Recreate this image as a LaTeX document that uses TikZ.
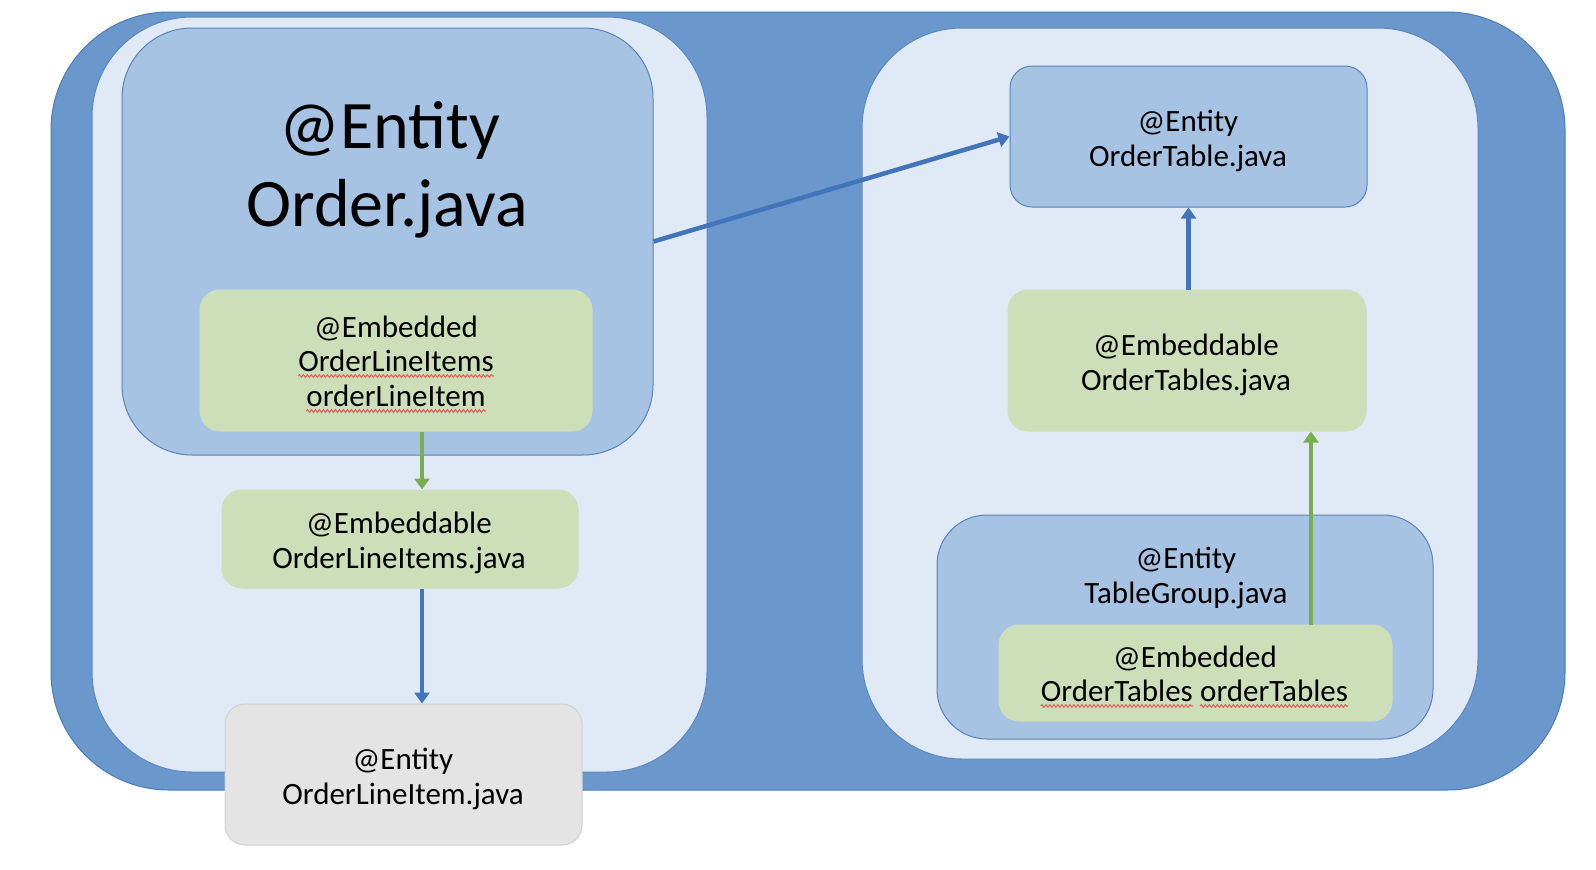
\documentclass[tikz,border=0pt]{standalone}
\usepackage{fontspec}
\setmainfont{Carlito}
\usetikzlibrary{arrows.meta,decorations.pathmorphing,calc}
\definecolor{outerblue}{HTML}{6A98CD}
\definecolor{outerline}{HTML}{4A7CBA}
\definecolor{panelfill}{HTML}{DFEAF6}
\definecolor{panelline}{HTML}{5C87BE}
\definecolor{midblue}{HTML}{A7C3E3}
\definecolor{midline}{HTML}{5A82B9}
\definecolor{embgreen}{HTML}{CCDFB8}
\definecolor{grayfill}{HTML}{E4E4E4}
\definecolor{grayline}{HTML}{D2D2D2}
\definecolor{arrowblue}{HTML}{4274BA}
\definecolor{arrowgreen}{HTML}{78AD50}
\definecolor{squigred}{HTML}{E8625F}
\tikzset{
  box/.style={draw, line width=1pt, inner sep=0pt, rectangle},
  outerbox/.style={box, fill=outerblue, draw=outerline, rounded corners=118pt},
  panelbox/.style={box, fill=panelfill, draw=panelline, rounded corners=100pt},
  entitybox/.style={box, fill=midblue, draw=midline},
  embbox/.style={box, fill=embgreen, draw=embgreen, rounded corners=20pt},
  graybox/.style={box, fill=grayfill, draw=grayline, rounded corners=20pt},
  txt/.style={inner sep=0pt, anchor=base, font=\fontsize{31}{35}\selectfont},
  bigtxt/.style={inner sep=0pt, anchor=base, font=\fontsize{68}{78}\selectfont},
  barrow/.style={draw=arrowblue, line width=4.5pt, -{Triangle[length=11pt,width=15pt]}},
  garrow/.style={draw=arrowgreen, line width=4.5pt, -{Triangle[length=11pt,width=15pt]}},
  squiggle/.style={draw=squigred, line width=1.1pt, decorate, decoration={snake, amplitude=1.3pt, segment length=4pt}}
}
\begin{document}
\begin{tikzpicture}[x=1pt, y=-1pt]
\useasboundingbox (0,0) rectangle (1596,870);
\fill[white] (0,0) rectangle (1596,870);
% containers
\node[outerbox, minimum width=1514pt, minimum height=778pt] (outer) at (808,401) {};
\node[panelbox, minimum width=615pt, minimum height=755pt] (leftpanel) at (399.5,394.5) {};
\node[panelbox, minimum width=616pt, minimum height=731pt] (rightpanel) at (1170,393.5) {};
% left side
\node[entitybox, rounded corners=70pt, minimum width=531pt, minimum height=427pt] (order) at (387.5,241.5) {};
\node[bigtxt] (ordera) at (390,148) {@Entity};
\node[bigtxt] (orderb) at (387,226) {Order.java};
\node[embbox, minimum width=392pt, minimum height=141pt] (emb1) at (396,360.5) {};
\node[txt] (emb1a) at (396,337) {@Embedded};
\node[txt] (emb1b) at (396,371) {OrderLineItems};
\node[txt] (emb1c) at (396,406) {orderLineItem};
\node[embbox, minimum width=356pt, minimum height=98pt] (olis) at (400,539) {};
\node[txt] (olisa) at (399,533) {@Embeddable};
\node[txt] (olisb) at (399,568) {OrderLineItems.java};
\node[graybox, minimum width=357pt, minimum height=141pt] (oli) at (403.5,774.5) {};
\node[txt] (olia) at (403,769) {@Entity};
\node[txt] (olib) at (403,804) {OrderLineItem.java};
% right side
\node[entitybox, rounded corners=22pt, minimum width=357pt, minimum height=141pt] (ot) at (1188.5,136.5) {};
\node[txt] (ota) at (1188,131) {@Entity};
\node[txt] (otb) at (1188,166) {OrderTable.java};
\node[embbox, minimum width=358pt, minimum height=141pt] (ots) at (1187,360.5) {};
\node[txt] (otsa) at (1186,355) {@Embeddable};
\node[txt] (otsb) at (1186,390) {OrderTables.java};
\node[entitybox, rounded corners=50pt, minimum width=496pt, minimum height=224pt] (tg) at (1185,627) {};
\node[txt] (tga) at (1186,568) {@Entity};
\node[txt] (tgb) at (1186,603) {TableGroup.java};
\node[embbox, minimum width=393pt, minimum height=96pt] (emb3) at (1195.5,673) {};
\node[txt] (emb3a) at (1195,667) {@Embedded};
\node[txt, anchor=base east] (emb3b) at (1193,701) {OrderTables};
\node[txt, anchor=base west] (emb3c) at ([xshift=7pt]emb3b.base east) {orderTables};
% spell-check underlines
\draw[squiggle] ([yshift=-5pt]emb1b.base west) -- ([yshift=-5pt]emb1b.base east);
\draw[squiggle] ([yshift=-5pt]emb1c.base west) -- ([yshift=-5pt]emb1c.base east);
\draw[squiggle] ([yshift=-5pt]emb3b.base west) -- ([yshift=-5pt]emb3b.base east);
\draw[squiggle] ([yshift=-5pt]emb3c.base west) -- ([yshift=-5pt]emb3c.base east);
% connectors
\draw[barrow] (order.east) -- (ot.west);
\draw[garrow] ([xshift=26pt]emb1.south) -- ([xshift=26pt]emb1.south |- olis.north);
\draw[barrow] ([xshift=22pt]olis.south) -- ([xshift=22pt]olis.south |- oli.north);
\draw[barrow] ([xshift=1.5pt]ots.north) -- ([xshift=1.5pt]ots.north |- ot.south);
\draw[garrow] ([xshift=115.5pt]emb3.north) -- ([xshift=115.5pt]emb3.north |- ots.south);
\end{tikzpicture}
\end{document}
